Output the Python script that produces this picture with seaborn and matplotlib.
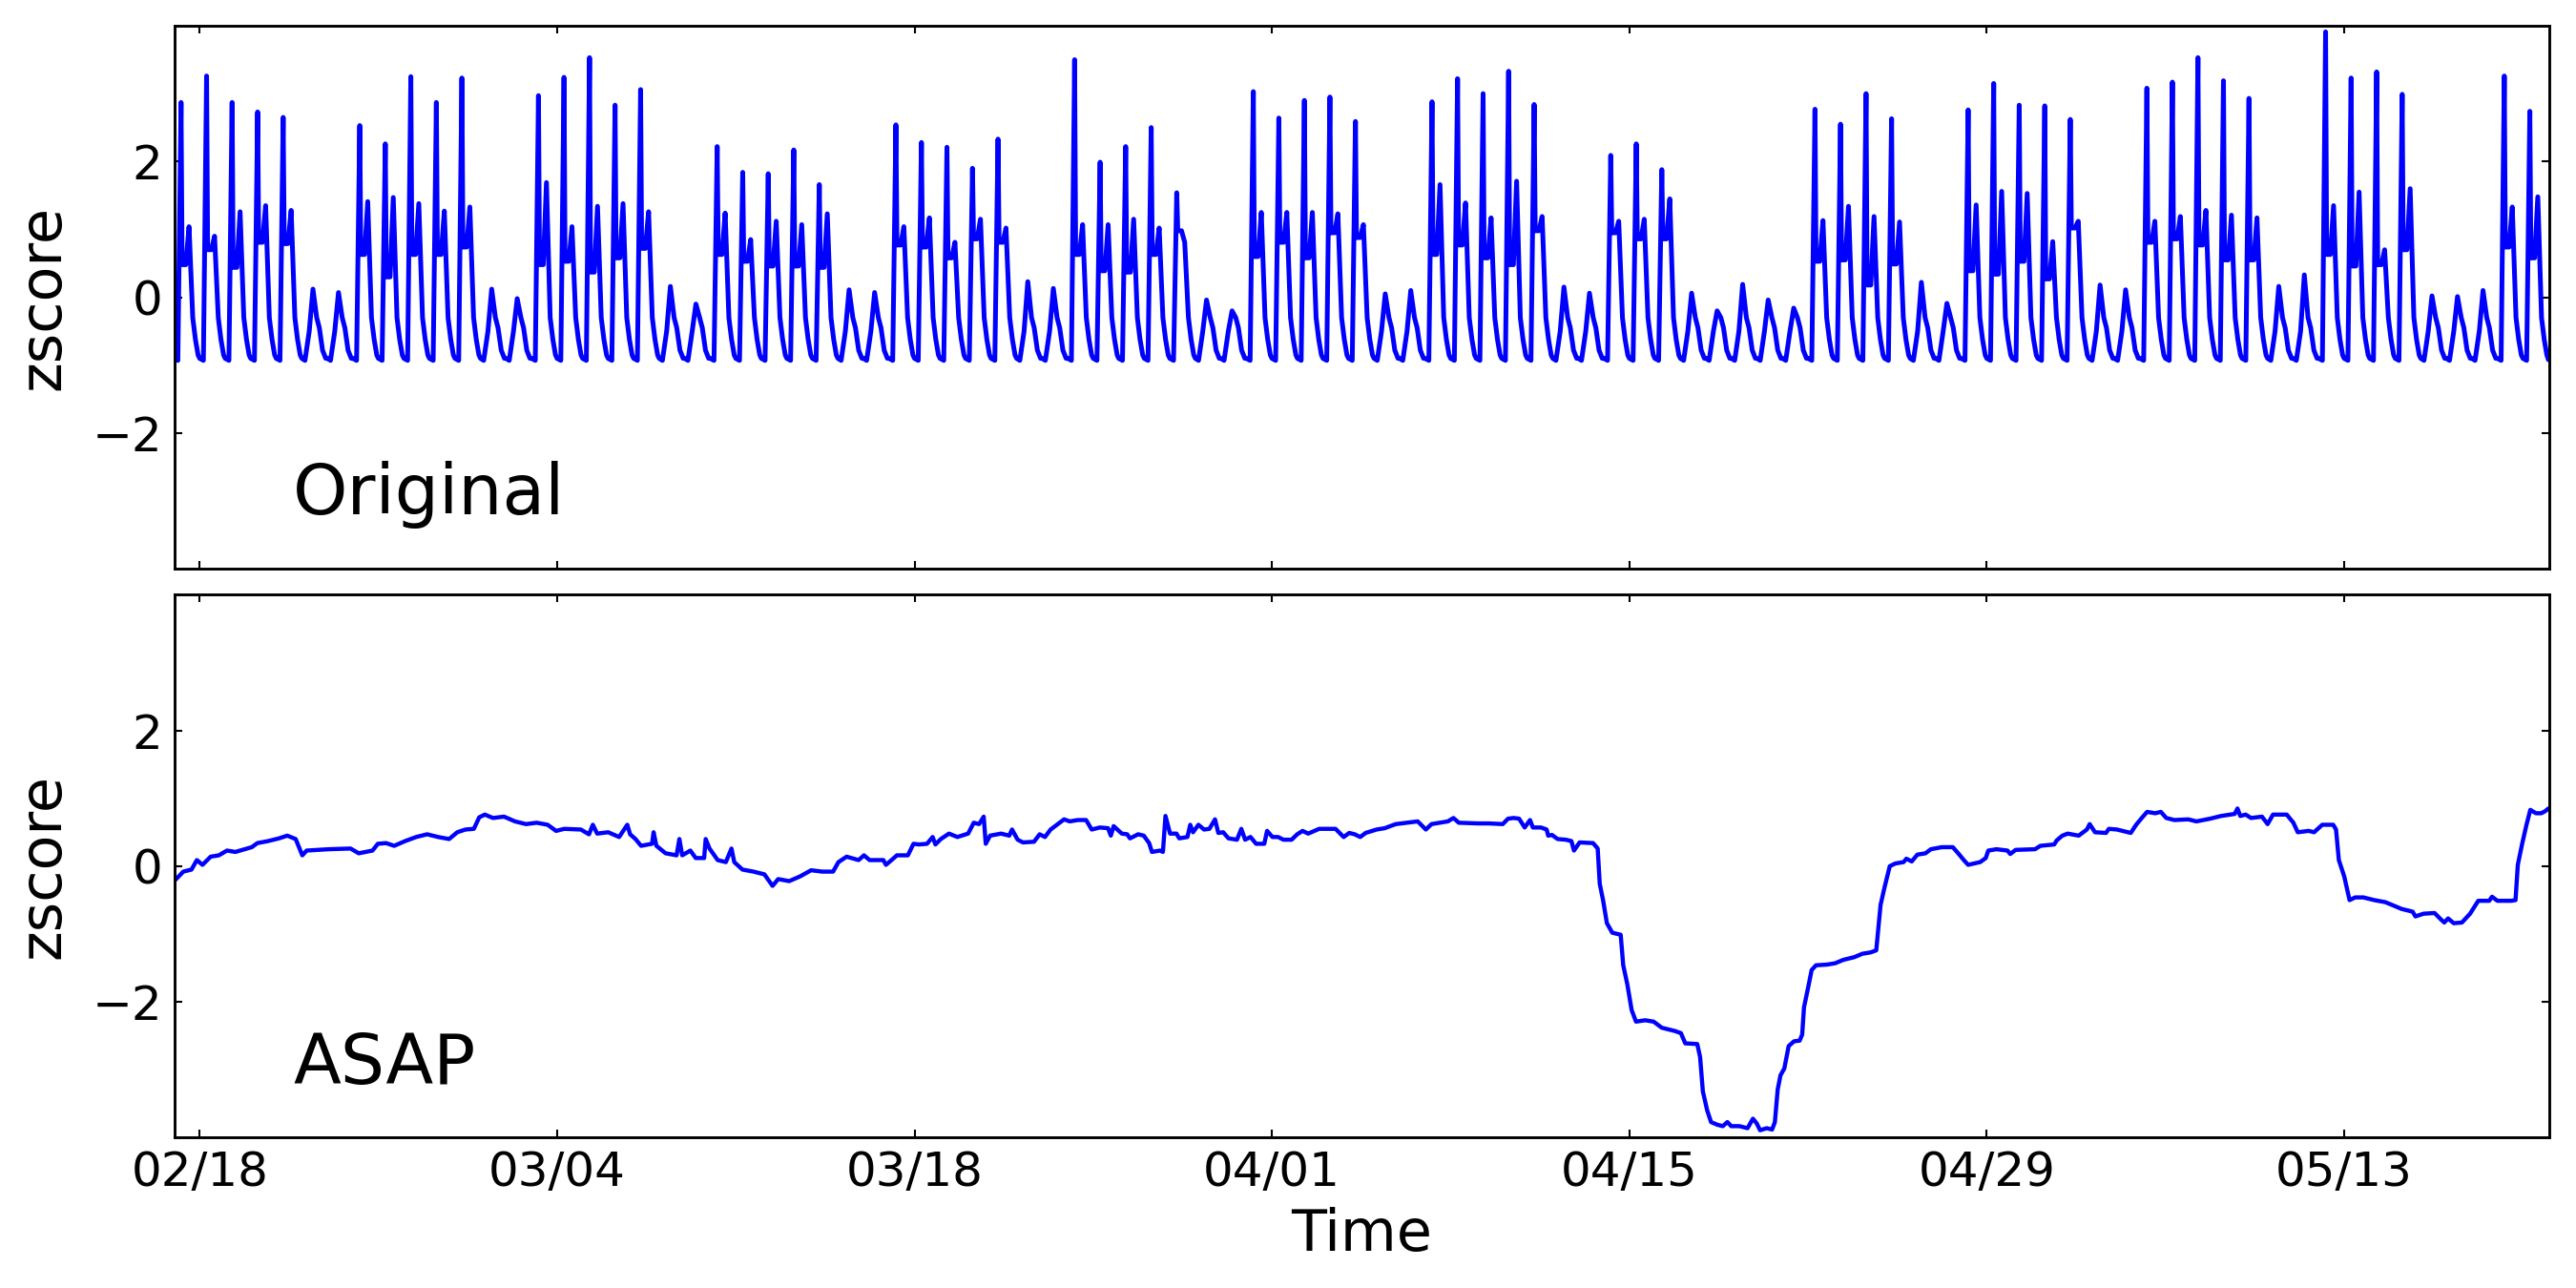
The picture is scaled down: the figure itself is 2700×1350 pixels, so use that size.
import pandas as pd
import seaborn as sns
import matplotlib.pyplot as plt
import matplotlib.dates as mdates

start = pd.Timestamp('2014-02-17')

# one letter per day from 02/17: H = busy day with a morning peak, L = quiet day
day_kind = "HHHHHLL" * 8 + "HHHLLLLLHHHHLLHHHHHLLHHHHHLLHHHHLLLHH"

# morning peak of each day (for quiet days: height of the midday bump)
day_peak = [
    2.87, 3.26, 2.87, 2.73, 2.65, 0.12, 0.07,
    2.53, 2.26, 3.25, 2.87, 3.23, 0.12, -0.02,
    2.97, 3.24, 3.53, 2.83, 3.06, 0.16, -0.10,
    2.22, 1.84, 1.82, 2.17, 1.66, 0.11, 0.07,
    2.54, 2.28, 2.21, 1.90, 2.33, 0.23, 0.13,
    3.50, 1.99, 2.22, 2.50, 1.54, -0.04, -0.20,
    3.03, 2.64, 2.90, 2.95, 2.59, 0.05, 0.10,
    2.88, 3.22, 3.00, 3.33, 2.84, 0.15, 0.06,
    2.09, 2.26, 1.88, 0.06, -0.20, 0.19, -0.04,
    -0.16, 2.77, 2.55, 3.00, 2.63, 0.22, -0.09,
    2.76, 3.15, 2.83, 2.82, 2.62, 0.18, 0.11,
    3.08, 3.17, 3.53, 3.19, 2.93, 0.16, 0.33,
    3.91, 3.23, 3.32, 2.99, 0.02, 0.01, 0.10,
    3.26, 2.74,
]
# level right after the peak (busy days only)
day_dip = [
    0.48, 0.70, 0.44, 0.81, 0.79, None, None,
    0.63, 0.30, 0.63, 0.63, 0.74, None, None,
    0.48, 0.53, 0.37, 0.58, 0.72, None, None,
    0.63, 0.53, 0.46, 0.46, 0.44, None, None,
    0.77, 0.74, 0.58, 0.86, 0.81, None, None,
    0.63, 0.39, 0.37, 0.63, 0.98, None, None,
    0.60, 0.81, 0.58, 0.95, 0.88, None, None,
    0.63, 0.77, 0.58, 0.48, 0.98, None, None,
    0.95, 0.86, 0.86, None, None, None, None,
    None, 0.53, 0.55, 0.18, 0.49, None, None,
    0.39, 0.34, 0.53, 0.27, 1.02, None, None,
    0.81, 0.86, 0.77, 0.55, 0.55, None, None,
    0.63, 0.46, 0.48, 0.70, None, None, None,
    0.74, 0.58,
]
# afternoon bump (busy days only)
day_second = [
    1.04, 0.90, 1.26, 1.35, 1.28, None, None,
    1.41, 1.47, 1.38, 1.27, 1.33, None, None,
    1.69, 1.04, 1.34, 1.38, 1.26, None, None,
    1.24, 0.85, 1.12, 1.07, 1.23, None, None,
    1.04, 1.17, 0.81, 1.15, 1.02, None, None,
    1.07, 1.07, 1.15, 1.02, 0.81, None, None,
    1.25, 1.25, 1.25, 1.23, 1.07, None, None,
    1.66, 1.39, 1.17, 1.71, 1.19, None, None,
    1.12, 1.15, 1.45, None, None, None, None,
    None, 1.13, 1.34, 1.19, 1.11, None, None,
    1.36, 1.56, 1.53, 0.82, 1.12, None, None,
    1.12, 1.19, 1.28, 1.21, 1.17, None, None,
    1.35, 1.55, 0.70, 1.60, None, None, None,
    1.33, 1.48,
]

# ASAP smoothed series: (days since 02/17, zscore)
asap_day = [
    0.0, 0.36, 0.68, 0.89, 1.11, 1.43, 1.75, 2.07, 2.4, 3.04, 3.26, 3.68, 4.11, 4.43, 4.76, 5.02,
    5.19, 6.05, 6.91, 7.23, 7.77, 7.98, 8.3, 8.62, 9.05, 9.48, 9.91, 10.34, 10.77, 11.09, 11.41,
    11.74, 11.95, 12.17, 12.49, 12.92, 13.35, 13.78, 14.2, 14.63, 14.96, 15.28, 15.93, 16.25, 16.4,
    16.57, 17.0, 17.43, 17.75, 17.86, 18.07, 18.29, 18.72, 18.78, 18.89, 19.25, 19.68, 19.79, 19.9,
    20.22, 20.43, 20.76, 20.82, 20.97, 21.29, 21.61, 21.83, 21.94, 22.26, 22.69, 23.12, 23.44,
    23.66, 24.09, 24.52, 24.95, 25.38, 25.81, 26.02, 26.34,
    26.81, 27.02, 27.24, 27.78, 27.88, 28.1, 28.31, 28.74, 28.96, 29.17, 29.49, 29.71, 29.82,
    30.03, 30.35, 30.68, 31.1, 31.32, 31.53, 31.71, 31.79, 31.96, 32.39, 32.71, 32.82, 33.04,
    33.25, 33.68, 33.9, 34.11, 34.33, 34.86, 35.08, 35.4, 35.72, 35.94, 36.26, 36.58, 36.69,
    36.8, 37.12, 37.33, 37.44, 37.76, 37.98, 38.19, 38.3, 38.62, 38.73, 38.83, 39.01, 39.26,
    39.37, 39.69, 39.8, 39.91, 40.12, 40.34, 40.55, 40.77, 40.9, 41.09, 41.3, 41.63, 41.8,
    41.95, 42.16, 42.38, 42.7, 42.81, 43.02, 43.24, 43.45, 43.77, 43.99, 44.2, 44.42, 44.85,
    45.49, 45.81, 46.03, 46.24, 46.46, 46.67, 47.1, 47.42, 47.85, 48.28, 48.71, 49.03, 49.25,
    49.57, 49.89, 50.11, 50.32, 51.07, 51.5, 52.04, 52.25, 52.47, 52.68, 52.9, 53.11, 53.22,
    53.54, 53.76, 53.82, 53.97, 54.19, 54.51, 54.73, 54.83, 55.05, 55.58, 55.76, 55.84, 55.97,
    56.12, 56.33, 56.66, 56.76, 56.92, 57.09, 57.26, 57.62, 57.95, 58.27, 58.8, 59.02, 59.19,
    59.66, 59.77, 59.88, 60.05, 60.2,
    60.45, 60.66, 60.84, 60.99, 61.31, 61.63, 61.84, 61.99, 62.12, 62.38, 62.59, 62.7, 62.81,
    62.92, 63.07, 63.24, 63.45, 63.67, 63.77, 63.84, 63.99, 64.14, 64.31, 64.74, 65.06, 65.38,
    65.81, 66.13, 66.45, 66.67, 66.84, 66.99, 67.2, 67.42, 67.74, 67.85, 68.06, 68.28, 68.6,
    68.81, 69.24, 69.67, 69.88, 70.1, 70.27, 70.74, 70.96, 71.06, 71.38, 71.81, 71.92, 72.13,
    72.89, 73.1, 73.64, 73.74, 73.96, 74.17, 74.6, 74.92, 75.03, 75.24, 75.67, 75.78, 76.1,
    76.64, 76.85, 77.07, 77.28, 77.6, 77.82, 78.03, 78.35, 78.89, 79.21, 79.75, 80.18, 80.71,
    80.82, 80.93, 81.14, 81.35, 81.78, 82.0, 82.21, 82.75, 83.01, 83.18, 83.61, 83.82, 84.14,
    84.57, 84.68, 84.79, 85.0, 85.21, 85.43, 85.75, 86.18, 86.61, 86.93, 87.25, 87.68, 87.79,
    88.11, 88.54, 88.75, 88.92, 89.07, 89.29, 89.61, 89.93, 90.25, 90.68, 90.79, 91.0, 91.54,
    91.71, 91.8, 91.97, 92.14, 92.29, 92.51, 92.72, 92.87, 93.0,
]
asap_z = [
    -0.22, -0.08, -0.05, 0.09, 0.02, 0.14, 0.16, 0.23, 0.21, 0.28, 0.34, 0.37, 0.41, 0.45, 0.40, 0.16,
    0.23, 0.25, 0.26, 0.19, 0.23, 0.33, 0.34, 0.30, 0.37, 0.43, 0.47, 0.43, 0.40, 0.50, 0.54,
    0.55, 0.72, 0.76, 0.71, 0.73, 0.66, 0.62, 0.64, 0.61, 0.52, 0.55, 0.54, 0.47, 0.61,
    0.48, 0.50, 0.43, 0.61, 0.47, 0.40, 0.30, 0.33, 0.50, 0.30, 0.19, 0.16, 0.40, 0.16,
    0.23, 0.12, 0.12, 0.40, 0.26, 0.09, 0.06, 0.26, 0.06, -0.05, -0.08, -0.12, -0.29,
    -0.19, -0.22, -0.15, -0.06, -0.08, -0.08, 0.06, 0.14,
    0.09, 0.16, 0.09, 0.09, 0.02, 0.09, 0.16, 0.16, 0.33, 0.32, 0.33, 0.43, 0.32,
    0.40, 0.48, 0.43, 0.48, 0.64, 0.62, 0.73, 0.33, 0.45, 0.48, 0.45, 0.54, 0.39,
    0.35, 0.36, 0.47, 0.43, 0.54, 0.69, 0.66, 0.68, 0.68, 0.54, 0.57, 0.56, 0.45,
    0.59, 0.48, 0.47, 0.41, 0.47, 0.45, 0.34, 0.21, 0.23, 0.21, 0.74, 0.48, 0.48,
    0.41, 0.43, 0.61, 0.50, 0.61, 0.54, 0.55, 0.69, 0.49, 0.50, 0.41, 0.39, 0.55,
    0.39, 0.43, 0.33, 0.33, 0.52, 0.43, 0.43, 0.39, 0.39, 0.47, 0.52, 0.48, 0.55,
    0.55, 0.43, 0.49, 0.47, 0.43, 0.49, 0.54, 0.56, 0.62, 0.64, 0.66, 0.54, 0.62,
    0.64, 0.66, 0.71, 0.64, 0.63, 0.63, 0.62, 0.70, 0.71, 0.70, 0.57, 0.68, 0.57,
    0.57, 0.54, 0.45, 0.46, 0.40, 0.39, 0.37, 0.23, 0.35, 0.34, 0.26, -0.26, -0.50,
    -0.84, -0.98, -1.01, -1.46, -1.74, -2.12, -2.29, -2.27, -2.29, -2.38, -2.43, -2.46, -2.61,
    -2.62, -2.81, -3.32, -3.60, -3.77,
    -3.81, -3.83, -3.77, -3.83, -3.83, -3.86, -3.72, -3.79, -3.89, -3.86, -3.88, -3.77, -3.29,
    -3.08, -2.98, -2.65, -2.58, -2.57, -2.48, -2.08, -1.81, -1.53, -1.46, -1.45, -1.43, -1.38,
    -1.34, -1.29, -1.27, -1.24, -0.57, -0.32, 0.0, 0.04, 0.06, 0.11, 0.07, 0.17, 0.19,
    0.25, 0.28, 0.28, 0.19, 0.09, 0.02, 0.06, 0.12, 0.23, 0.25, 0.23, 0.18, 0.24,
    0.25, 0.30, 0.32, 0.38, 0.45, 0.48, 0.45, 0.54, 0.62, 0.50, 0.49, 0.55, 0.54,
    0.49, 0.61, 0.71, 0.80, 0.78, 0.80, 0.71, 0.68, 0.69, 0.66, 0.70, 0.74, 0.77,
    0.85, 0.74, 0.76, 0.71, 0.73, 0.62, 0.76, 0.76, 0.64, 0.50, 0.52, 0.50, 0.61,
    0.61, 0.54, 0.09, -0.15, -0.50, -0.46, -0.46, -0.50, -0.53, -0.58, -0.63, -0.67, -0.74,
    -0.70, -0.69, -0.77, -0.83, -0.77, -0.84, -0.83, -0.70, -0.51, -0.51, -0.45, -0.51, -0.51,
    -0.50, 0.02, 0.33, 0.61, 0.83, 0.78, 0.78, 0.81, 0.85,
]

tick_days = pd.date_range('2014-02-18', periods=7, freq='14D')


# typical shape inside one day, hours after midnight
def day_points(kind, peak, dip, second):
    if kind == 'H':
        hours = [0, 3.5, 6.5, 7.5, 11, 14, 17.5, 20, 22.5]
        vals = [-0.9, -0.93, peak, dip, dip, second, -0.3, -0.62, -0.85]
    else:
        hours = [0, 3, 7, 10.5, 14, 16.5, 19.5, 22.5]
        vals = [-0.9, -0.93, -0.5, peak, -0.3, -0.45, -0.78, -0.9]
    return hours, vals


orig_hours, orig_z = [], []
for d, kind in enumerate(day_kind):
    h, v = day_points(kind, day_peak[d], day_dip[d], day_second[d])
    orig_hours += [24 * d + x for x in h]
    orig_z += v
orig_hours.append(24 * len(day_kind))
orig_z.append(-0.92)

orig = pd.DataFrame({'time': start + pd.to_timedelta(orig_hours, unit='h'), 'z': orig_z})
asap = pd.DataFrame({'time': start + pd.to_timedelta(asap_day, unit='D'), 'z': asap_z})

sns.set_style('ticks', {'xtick.direction': 'in', 'ytick.direction': 'in',
                        'xtick.top': True, 'ytick.right': True,
                        'text.color': 'black', 'axes.labelcolor': 'black',
                        'xtick.color': 'black', 'ytick.color': 'black',
                        'axes.edgecolor': 'black'})
plt.rcParams['font.family'] = ['DejaVu Sans']

fig, (ax1, ax2) = plt.subplots(2, 1, figsize=(18, 9), dpi=150, sharex=True)
fig.subplots_adjust(left=0.0676, right=0.9898, top=0.98, bottom=0.1167, hspace=0.0477)

sns.lineplot(data=orig, x='time', y='z', ax=ax1, color='#0000ff', linewidth=2.4, estimator=None)
sns.lineplot(data=asap, x='time', y='z', ax=ax2, color='#0000ff', linewidth=2.1, estimator=None)

for ax, name in [(ax1, 'Original'), (ax2, 'ASAP')]:
    ax.set_ylim(-4, 4)
    ax.set_yticks([-2, 0, 2])
    ax.set_ylabel('zscore', fontsize=29, labelpad=10, color='black')
    ax.text(0.05, 0.1, name, transform=ax.transAxes, fontsize=35, color='black')
    ax.tick_params(labelsize=24, length=4, width=1, pad=6, top=True, right=True,
                   direction='in', colors='black')
    for sp in ax.spines.values():
        sp.set_linewidth(1.4)
        sp.set_color('black')

ax1.set_xlabel('')
ax2.set_xlim(start, start + pd.Timedelta(days=93.05))
ax2.set_xticks(tick_days)
ax2.xaxis.set_major_formatter(mdates.DateFormatter('%m/%d'))
ax2.set_xlabel('Time', fontsize=29, labelpad=6, color='black')
ax1.tick_params(labelbottom=False)

fig.savefig('out.png', dpi=150)
